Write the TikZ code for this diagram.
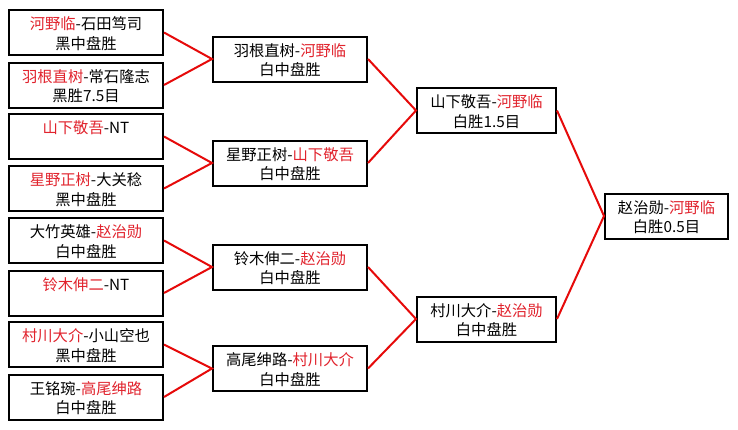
\documentclass[tikz,border=0pt]{standalone}
\usepackage{fontspec}
\setmainfont{Noto Sans CJK SC}
\definecolor{wred}{RGB}{225,35,45}
\definecolor{lred}{RGB}{230,10,10}
\newcommand\rn[1]{\textcolor{wred}{#1}}
\begin{document}
\begin{tikzpicture}[x=1pt,y=-1pt,
  box/.style={draw=black,line width=2pt,rectangle,inner sep=0pt,minimum height=45pt},
  wa/.style={box,minimum width=154pt},
  wb/.style={box,minimum width=139pt},
  wc/.style={box,minimum width=123pt},
  lt/.style={anchor=base,inner sep=0pt,font=\fontsize{15.3pt}{17pt}\selectfont},
  conn/.style={draw=lred,line width=2pt}]
\useasboundingbox[fill=white] (0,0) rectangle (738,429);
% round 1
\node[wa] (a1) at (86,32.5) {};
\node[wa] (a2) at (86,85) {};
\node[wa] (a3) at (86,136.5) {};
\node[wa] (a4) at (86,188.5) {};
\node[wa] (a5) at (86,240.5) {};
\node[wa] (a6) at (86,293) {};
\node[wa] (a7) at (86,344.5) {};
\node[wa] (a8) at (86,397) {};
% round 2
\node[wa] (b1) at (290,59) {};
\node[wa] (b2) at (290,163) {};
\node[wa] (b3) at (290,267) {};
\node[wa] (b4) at (290,368.5) {};
% round 3
\node[wb] (c1) at (486.5,110.5) {};
\node[wb] (c2) at (486.5,319) {};
% final
\node[wc] (d1) at (666.5,216) {};
% texts
\newcommand\boxtext[3]{%
  \node[lt] (#1t1) at ([yshift=-20.5pt]#1.north) {#2};
  \node[lt] (#1t2) at ([yshift=-40pt]#1.north) {#3};}
\boxtext{a1}{\rn{河野临}-石田笃司}{黑中盘胜}
\boxtext{a2}{\rn{羽根直树}-常石隆志}{黑胜7.5目}
\boxtext{a3}{\rn{山下敬吾}-NT}{}
\boxtext{a4}{\rn{星野正树}-大关稔}{黑中盘胜}
\boxtext{a5}{大竹英雄-\rn{赵治勋}}{白中盘胜}
\boxtext{a6}{\rn{铃木伸二}-NT}{}
\boxtext{a7}{\rn{村川大介}-小山空也}{黑中盘胜}
\boxtext{a8}{王铭琬-\rn{高尾绅路}}{白中盘胜}
\boxtext{b1}{羽根直树-\rn{河野临}}{白中盘胜}
\boxtext{b2}{星野正树-\rn{山下敬吾}}{白中盘胜}
\boxtext{b3}{铃木伸二-\rn{赵治勋}}{白中盘胜}
\boxtext{b4}{高尾绅路-\rn{村川大介}}{白中盘胜}
\boxtext{c1}{山下敬吾-\rn{河野临}}{白胜1.5目}
\boxtext{c2}{村川大介-\rn{赵治勋}}{白中盘胜}
\boxtext{d1}{赵治勋-\rn{河野临}}{白胜0.5目}
% connectors
\draw[conn] (a1.east) -- (b1.west) -- (a2.east);
\draw[conn] (a3.east) -- (b2.west) -- (a4.east);
\draw[conn] (a5.east) -- (b3.west) -- (a6.east);
\draw[conn] (a7.east) -- (b4.west) -- (a8.east);
\draw[conn] (b1.east) -- (c1.west) -- (b2.east);
\draw[conn] (b3.east) -- (c2.west) -- (b4.east);
\draw[conn] (c1.east) -- (d1.west) -- (c2.east);
\end{tikzpicture}
\end{document}
